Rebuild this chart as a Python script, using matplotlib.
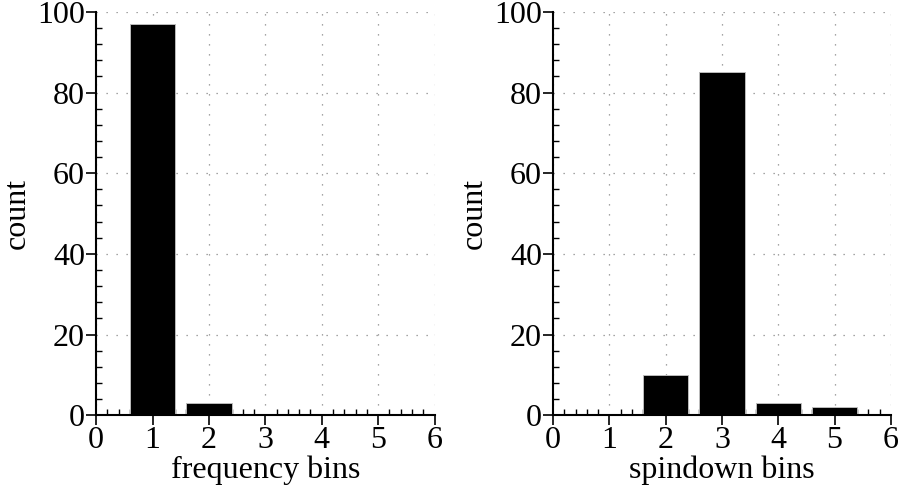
import matplotlib
matplotlib.use("Agg")
import matplotlib.pyplot as plt
from matplotlib.ticker import MultipleLocator

bins = [1, 2, 3, 4, 5]
freq_counts = [97, 3, 0, 0, 0]
spin_counts = [0, 10, 85, 3, 2]

plt.rcParams['font.family'] = ['Liberation Serif', 'DejaVu Serif']

fig = plt.figure(figsize=(8.98, 4.96), dpi=100)
ax1 = fig.add_axes([0.107, 0.163, 0.377, 0.813])
ax2 = fig.add_axes([0.616, 0.163, 0.376, 0.813])

for ax, counts, xlab in [(ax1, freq_counts, "frequency bins"), (ax2, spin_counts, "spindown bins")]:
    ax.set_axisbelow(True)
    ax.grid(True, linestyle=(0, (1, 7)), color='#888888', linewidth=0.9)
    ax.bar(bins, counts, width=0.8, color='black', edgecolor='#bbbbbb', linewidth=0.7, zorder=2)
    ax.set_xlim(0, 6)
    ax.set_ylim(0, 100)
    ax.xaxis.set_major_locator(MultipleLocator(1))
    ax.xaxis.set_minor_locator(MultipleLocator(0.2))
    ax.yaxis.set_major_locator(MultipleLocator(20))
    ax.yaxis.set_minor_locator(MultipleLocator(4))
    ax.spines['top'].set_visible(False)
    ax.spines['right'].set_visible(False)
    ax.spines['left'].set_linewidth(1.5)
    ax.spines['bottom'].set_linewidth(1.5)
    ax.tick_params(which='major', direction='out', length=7, width=1.2, labelsize=23, pad=1)
    ax.tick_params(which='minor', direction='in', length=4, width=1.0)
    ax.set_xlabel(xlab, fontsize=23, labelpad=0)
    ax.set_ylabel("count", fontsize=23, labelpad=4)

fig.savefig("out.png", dpi=100)
